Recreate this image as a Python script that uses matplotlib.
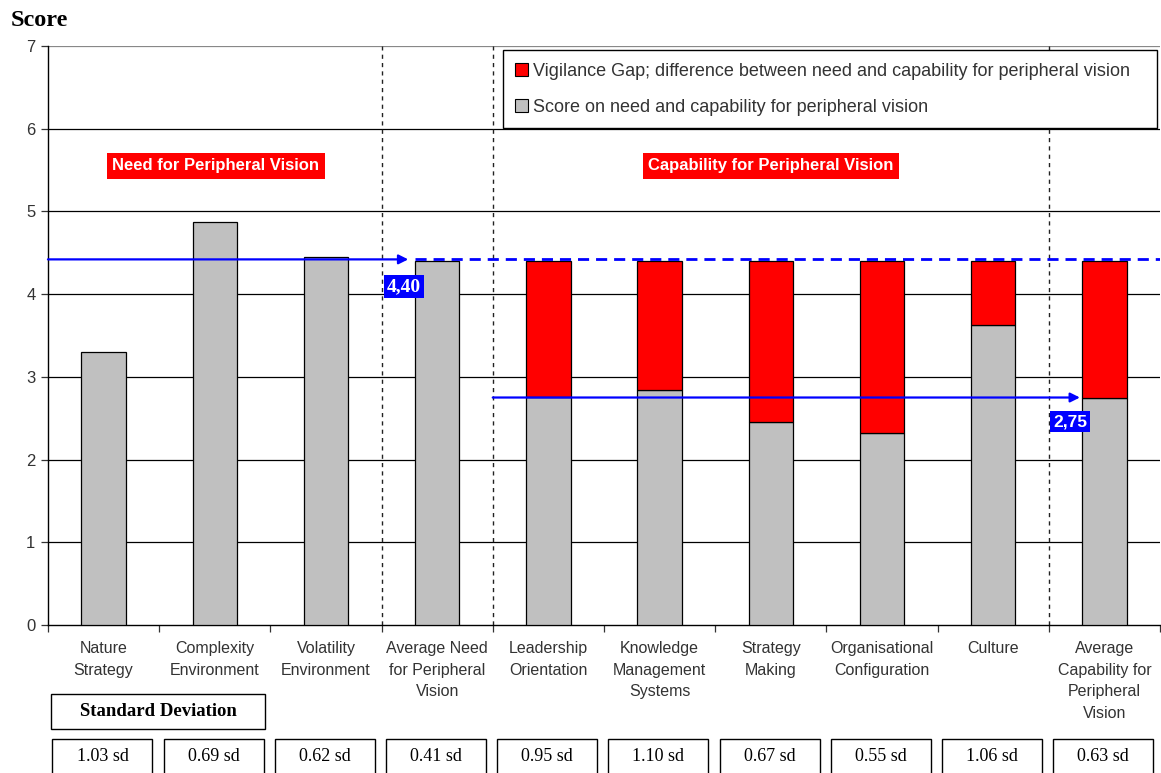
import matplotlib
matplotlib.use("Agg")
import matplotlib.pyplot as plt
from matplotlib.patches import Rectangle, Patch
from matplotlib.transforms import blended_transform_factory

# ---- data ----
categories = ["Nature\nStrategy", "Complexity\nEnvironment", "Volatility\nEnvironment",
              "Average Need\nfor Peripheral\nVision", "Leadership\nOrientation",
              "Knowledge\nManagement\nSystems", "Strategy\nMaking",
              "Organisational\nConfiguration", "Culture",
              "Average\nCapability for\nPeripheral\nVision"]
scores = [3.30, 4.87, 4.45, 4.40, 2.76, 2.84, 2.45, 2.32, 3.63, 2.75]
is_capability = [False, False, False, False, True, True, True, True, True, True]
std_devs = [1.03, 0.69, 0.62, 0.41, 0.95, 1.10, 0.67, 0.55, 1.06, 0.63]
need_level = 4.40
capability_level = 2.75
need_label = "4,40"
capability_label = "2,75"
yticks = [0, 1, 2, 3, 4, 5, 6, 7]

SANS = "Liberation Sans"
SERIF = "Liberation Serif"
GRAY = "#c0c0c0"
RED = "#ff0000"
BLUE = "#0000ff"
TXT = "#333333"

fig = plt.figure(figsize=(11.61, 7.73), dpi=100, facecolor="white")
ax = fig.add_axes([0.0413, 0.1915, 0.9578, 0.749])

n = len(categories)
xs = [i + 0.5 for i in range(n)]
gaps = [need_level - s if c else 0 for s, c in zip(scores, is_capability)]

# grid
for y in yticks[1:]:
    ax.axhline(y, color="#000000" if y < 7 else "#888888", lw=0.9, zorder=1)

# section separators
for xv in (3, 4, 9):
    ax.plot([xv, xv], [0, 7], color="#222222", lw=1.0, ls=(0, (3, 3)), zorder=2)

ax.bar(xs, scores, width=0.4, color=GRAY, edgecolor="black", lw=0.9, zorder=3)
gap_x = [x for x, c in zip(xs, is_capability) if c]
gap_b = [s for s, c in zip(scores, is_capability) if c]
gap_h = [g for g, c in zip(gaps, is_capability) if c]
ax.bar(gap_x, gap_h, bottom=gap_b, width=0.4, color=RED, edgecolor="black", lw=0.9, zorder=3)

# need level arrow + dashed continuation
ax.annotate("", xy=(3.24, need_level + 0.02), xytext=(0, need_level + 0.02),
            arrowprops=dict(arrowstyle="-|>", color=BLUE, lw=1.6, mutation_scale=14,
                            shrinkA=0, shrinkB=0), zorder=5)
ax.plot([3.3, 10], [need_level + 0.02] * 2, color=BLUE, lw=2.0, ls=(0, (4, 2.5)), zorder=5)
ax.text(3.20, 4.09, need_label, ha="center", va="center", color="white", fontsize=14,
        fontweight="bold", family=SERIF, zorder=6,
        bbox=dict(boxstyle="square,pad=0.15", fc=BLUE, ec="none"))

# capability level arrow
ax.annotate("", xy=(9.28, capability_level), xytext=(4.0, capability_level),
            arrowprops=dict(arrowstyle="-|>", color=BLUE, lw=1.6, mutation_scale=14,
                            shrinkA=0, shrinkB=0), zorder=5)
ax.text(9.19, 2.46, capability_label, ha="center", va="center", color="white", fontsize=12.5,
        fontweight="bold", family=SANS, zorder=6,
        bbox=dict(boxstyle="square,pad=0.18", fc=BLUE, ec="none"))

# section titles
for xc, txt in ((1.51, "Need for Peripheral Vision"), (6.5, "Capability for Peripheral Vision")):
    ax.text(xc, 5.55, txt, ha="center", va="center", color="white", fontsize=12,
            fontweight="bold", family=SANS, zorder=6,
            bbox=dict(boxstyle="square,pad=0.32", fc=RED, ec="none"))

ax.set_xlim(0, 10)
ax.set_ylim(0, 7)
ax.set_yticks(yticks)
ax.set_yticklabels([str(v) for v in yticks], family=SANS, fontsize=12, color=TXT)
ax.set_xticks(range(0, n + 1))
ax.set_xticklabels([])
ax.tick_params(axis="both", length=5, width=0.9, color="#333333")
ax.tick_params(axis="y", pad=4)
for s in ("top", "right"):
    ax.spines[s].set_visible(False)
ax.spines["left"].set_linewidth(1.0)
ax.spines["bottom"].set_linewidth(1.0)

# category labels
tr = blended_transform_factory(ax.transData, ax.transAxes)
for x, lab in zip(xs, categories):
    ax.text(x, -0.028, lab, transform=tr, ha="center", va="top", fontsize=11.5,
            family=SANS, color=TXT, linespacing=1.55)

# standard deviation header and boxes
ax.add_patch(Rectangle((0.03, -0.180), 1.92, 0.061, transform=tr, fill=False,
                       ec="black", lw=1.0, clip_on=False))
ax.text(0.99, -0.150, "Standard Deviation", transform=tr, ha="center", va="center",
        fontsize=13.5, fontweight="bold", family=SERIF, color="black")
for x, sd in zip(xs, std_devs):
    ax.add_patch(Rectangle((x - 0.46, -0.27), 0.9, 0.073, transform=tr, fill=False,
                           ec="black", lw=1.0, clip_on=False))
    ax.text(x - 0.01, -0.228, f"{sd:.2f} sd", transform=tr, ha="center", va="center",
            fontsize=13, family=SERIF, color="black")

# y axis title
fig.text(0.009, 0.973, "Score", ha="left", va="center", fontsize=17.5, fontweight="bold",
         family=SERIF)

handles = [Patch(fc=RED, ec="black", lw=0.8), Patch(fc=GRAY, ec="black", lw=0.8)]
labels = ["Vigilance Gap; difference between need and capability for peripheral vision",
          "Score on need and capability for peripheral vision"]
leg = ax.legend(handles, labels, loc="upper left", bbox_to_anchor=(0.409, 0.993, 0.588, 0.0),
                mode="expand", prop=dict(family=SANS, size=13), handlelength=0.7,
                handleheight=0.7, handletextpad=0.3, labelspacing=1.05, borderpad=0.7,
                borderaxespad=0, fancybox=False, framealpha=1.0, edgecolor="black")
leg.get_frame().set_linewidth(1.0)
leg.set_zorder(10)
for t in leg.get_texts():
    t.set_color(TXT)

fig.savefig("out.png", dpi=100, facecolor="white")
